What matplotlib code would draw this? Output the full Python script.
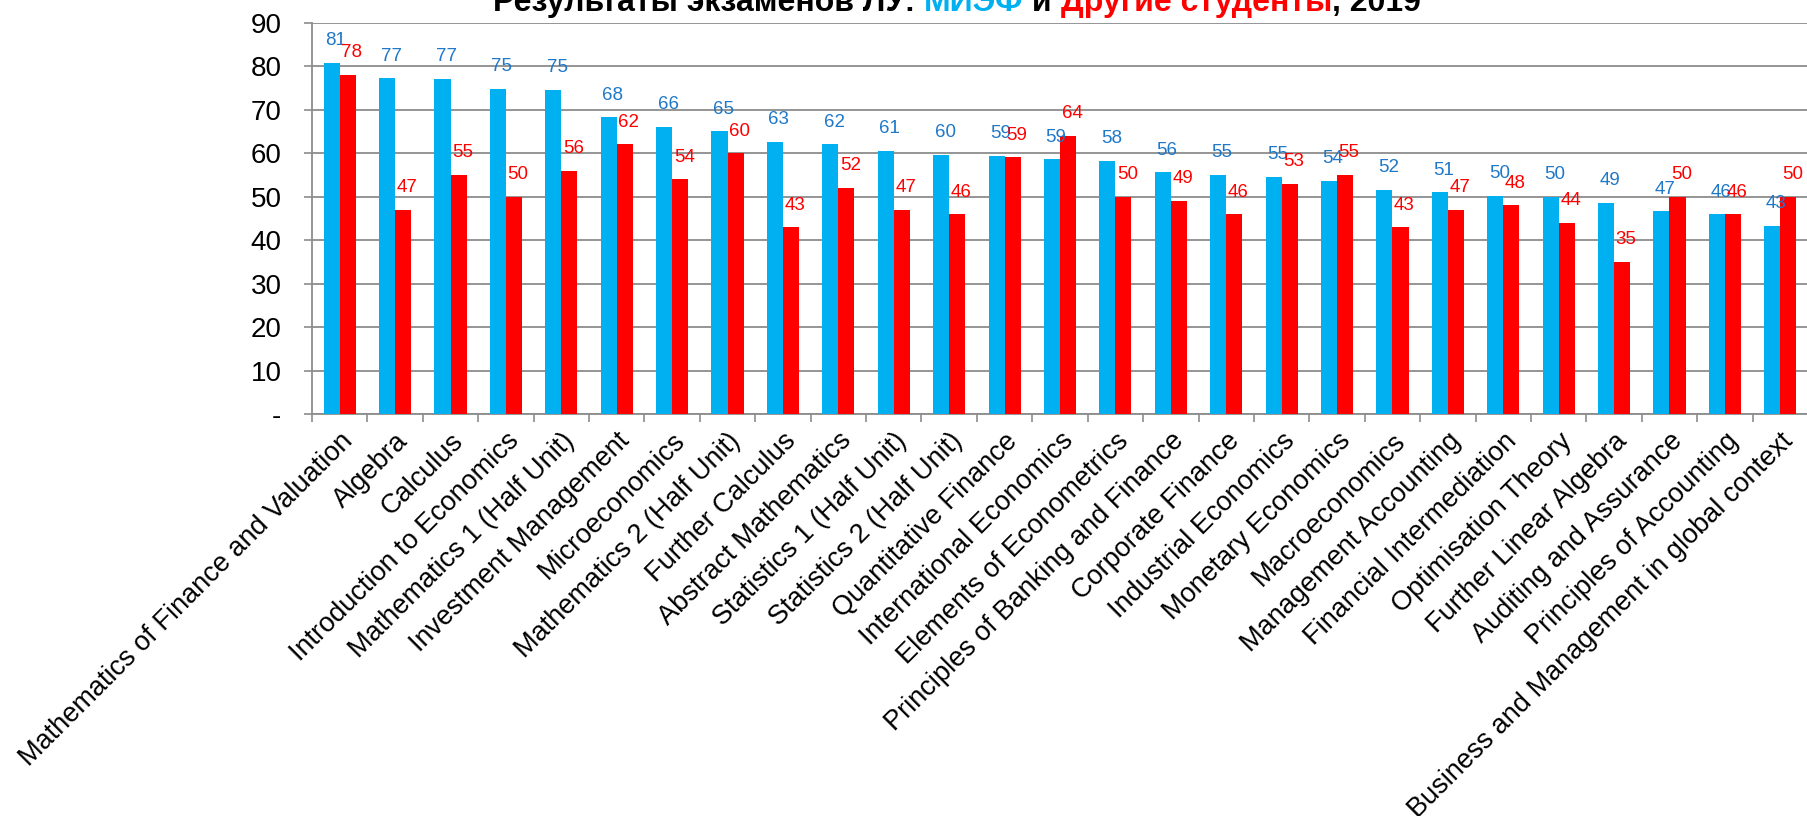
import matplotlib
matplotlib.use('Agg')
from matplotlib import pyplot as plt
from matplotlib.offsetbox import TextArea, HPacker, AnnotationBbox
import numpy as np

plt.rcParams['font.family'] = ['Liberation Sans', 'DejaVu Sans']

subjects = [
    'Mathematics of Finance and Valuation', 'Algebra', 'Calculus',
    'Introduction to Economics', 'Mathematics 1 (Half Unit)',
    'Investment Management', 'Microeconomics', 'Mathematics 2 (Half Unit)',
    'Further Calculus', 'Abstract Mathematics', 'Statistics 1 (Half Unit)',
    'Statistics 2 (Half Unit)', 'Quantitative Finance',
    'International Economics', 'Elements of Econometrics',
    'Principles of Banking and Finance', 'Corporate Finance',
    'Industrial Economics', 'Monetary Economics', 'Macroeconomics',
    'Management Accounting', 'Financial Intermediation',
    'Optimisation Theory', 'Further Linear Algebra',
    'Auditing and Assurance', 'Principles of Accounting',
    'Business and Management in global context',
]
icef = [80.8, 77.2, 77.1, 74.8, 74.6, 68.2, 66.1, 65.0, 62.6, 62.1, 60.6,
        59.6, 59.4, 58.6, 58.2, 55.6, 55.0, 54.6, 53.6, 51.6, 51.0, 50.2,
        50.0, 48.6, 46.6, 46.0, 43.3]
others = [78, 47, 55, 50, 56, 62, 54, 60, 43, 52, 47, 46, 59, 64, 50, 49,
          46, 53, 55, 43, 47, 48, 44, 35, 50, 46, 50]
yticks = [0, 10, 20, 30, 40, 50, 60, 70, 80, 90]
ytick_labels = ['-', '10', '20', '30', '40', '50', '60', '70', '80', '90']

blue = '#00B0F0'
red = '#FF0000'
blue_txt = '#1F78C8'
grid_c = '#8C8C8C'

fig = plt.figure(figsize=(18.08, 8.16), dpi=100)
ax = fig.add_axes([312 / 1808, 1 - 414 / 816, 1496 / 1808, (414 - 22.7) / 816])

x = np.arange(len(subjects))
w = 0.29
ax.bar(x - w / 2, icef, w, color=blue, zorder=3)
ax.bar(x + w / 2, others, w, color=red, zorder=3)

for i in range(len(subjects)):
    ax.annotate(f'{icef[i]:.0f}', (x[i] - w / 2, icef[i]), xytext=(4, 22),
                textcoords='offset pixels', ha='center', va='center',
                fontsize=13.5, color=blue_txt, zorder=4)
    ax.annotate(f'{others[i]:.0f}', (x[i] + w / 2, others[i]), xytext=(4, 22),
                textcoords='offset pixels', ha='center', va='center',
                fontsize=13.5, color=red, zorder=4)

ax.set_xlim(-0.5, len(subjects) - 0.5)
ax.set_ylim(0, 90)
ax.set_yticks(yticks)
ax.set_yticklabels(ytick_labels, fontsize=20)
ax.set_xticks(x)
ax.set_xticklabels(subjects, rotation=45, ha='right', rotation_mode='anchor',
                   fontsize=19.5)
ax.set_xticks(np.arange(len(subjects) + 1) - 0.5, minor=True)
ax.tick_params(axis='x', which='major', length=0, pad=10)
ax.tick_params(axis='x', which='minor', length=6, color=grid_c, width=1.2)
ax.tick_params(axis='y', length=6, color=grid_c, width=1.2, pad=16)

ax.grid(axis='y', color=grid_c, linewidth=1.3, zorder=0)
for s in ['top', 'right']:
    ax.spines[s].set_visible(False)
for s in ['left', 'bottom']:
    ax.spines[s].set_color(grid_c)
    ax.spines[s].set_linewidth(1.3)

# title with coloured parts
tprops = dict(fontsize=23, fontweight='bold')
parts = [
    TextArea('Результаты экзаменов ЛУ: ', textprops=dict(color='black', **tprops)),
    TextArea('МИЭФ', textprops=dict(color=blue, **tprops)),
    TextArea(' и ', textprops=dict(color='black', **tprops)),
    TextArea('Другие студенты', textprops=dict(color=red, **tprops)),
    TextArea(', 2019', textprops=dict(color='black', **tprops)),
]
box = HPacker(children=parts, align='baseline', pad=0, sep=0)
ab = AnnotationBbox(box, (957, 816 - 18), xycoords='figure pixels',
                    box_alignment=(0.5, 0.0), frameon=False)
fig.add_artist(ab)

fig.savefig('out.png', dpi=100)
